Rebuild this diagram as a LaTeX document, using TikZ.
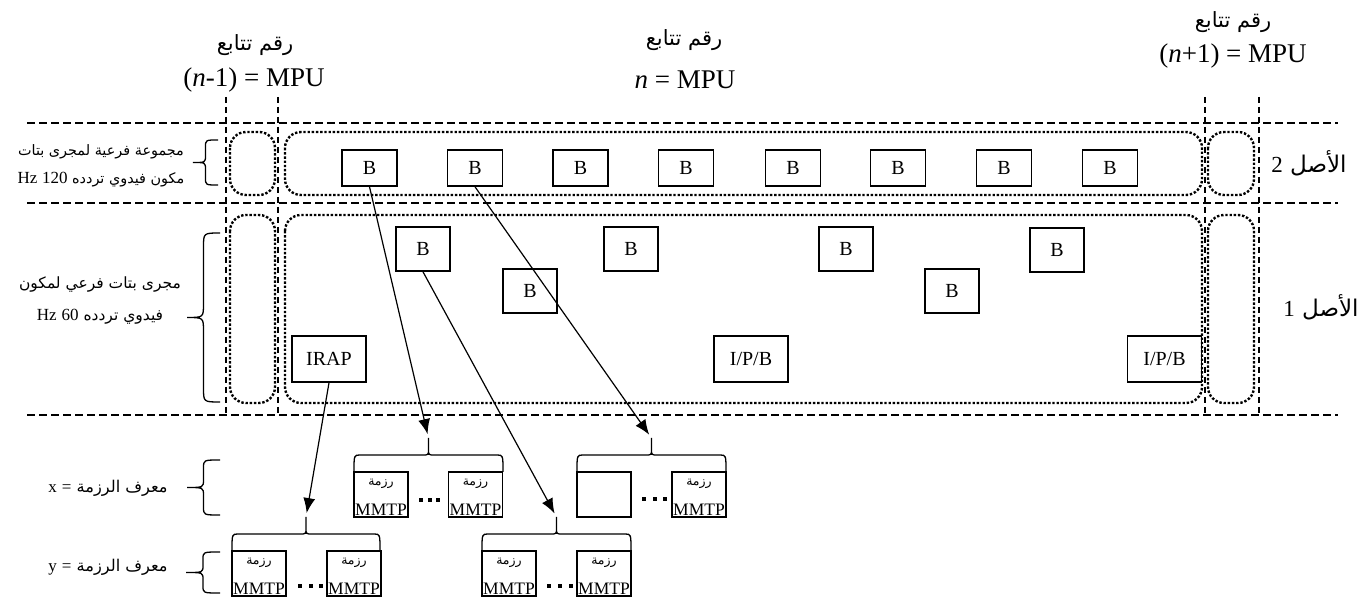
\documentclass[tikz,border=0pt]{standalone}
\usepackage{fontspec}
\setmainfont{Liberation Serif}
\newfontfamily\arabicfont[Script=Arabic]{DejaVu Sans}
\newfontfamily\latinfont{Liberation Serif}
\TeXXeTstate=1
\usetikzlibrary{arrows.meta}
\newcommand\artxt[1]{{\arabicfont\beginR #1\endR}}
\newcommand\lt[1]{{\latinfont #1}}
\newcommand\ltb[1]{{\latinfont\fontsize{17}{20}\selectfont #1}}
% top brace: xL xR ybase ytip
\newcommand\topbrace[4]{%
 \draw[brcline] (#1,#3) .. controls (#1,{(#3+#4)/2}) .. ({#1+6},{(#3+#4)/2})
   -- ({(#1+#2)/2-6},{(#3+#4)/2}) .. controls ({(#1+#2)/2},{(#3+#4)/2}) .. ({(#1+#2)/2},{(#3+#4)/2-6})
   -- ({(#1+#2)/2},#4) -- ({(#1+#2)/2},{(#3+#4)/2-6})
   .. controls ({(#1+#2)/2},{(#3+#4)/2}) .. ({(#1+#2)/2+6},{(#3+#4)/2})
   -- ({#2-6},{(#3+#4)/2}) .. controls (#2,{(#3+#4)/2}) .. (#2,#3);}
% left brace: xTip xEnd yTop yBot r
\newcommand\leftbrace[5]{%
 \draw[brcline] (#2,#3) .. controls ({(#1+#2)/2},#3) .. ({(#1+#2)/2},{#3+#5})
   -- ({(#1+#2)/2},{(#3+#4)/2-#5}) .. controls ({(#1+#2)/2},{(#3+#4)/2}) .. (#1,{(#3+#4)/2})
   .. controls ({(#1+#2)/2},{(#3+#4)/2}) .. ({(#1+#2)/2},{(#3+#4)/2+#5})
   -- ({(#1+#2)/2},{#4-#5}) .. controls ({(#1+#2)/2},#4) .. (#2,#4);}
\begin{document}
\begin{tikzpicture}[x=1pt,y=-1pt,
  hdash/.style={line width=2.2pt, dash pattern=on 8pt off 4pt},
  vdash/.style={line width=1.2pt, dash pattern=on 6pt off 4pt},
  dotbox/.style={line width=2.4pt, dash pattern=on 2.4pt off 1.8pt, rounded corners=16pt},
  fbox/.style={draw, line width=1.6pt, inner sep=0pt, font=\fontsize{20}{22}\selectfont},
  bsmall/.style={fbox, minimum width=55pt, minimum height=36pt},
  bbig/.style={fbox, minimum width=54pt, minimum height=44pt},
  bwide/.style={fbox, minimum width=74pt, minimum height=46pt},
  pkt/.style={draw, line width=1.6pt, minimum width=54pt, minimum height=45pt, inner sep=0pt},
  pkar/.style={inner sep=0pt, font=\fontsize{12.5}{14}\selectfont},
  pkmm/.style={anchor=base, inner sep=0pt, font=\fontsize{17.5}{18}\selectfont},
  conn/.style={line width=1.2pt, -{Latex[length=15pt,width=12pt]}, shorten >=4pt},
  brcline/.style={line width=1.3pt},
  toplat/.style={inner sep=0pt, font=\fontsize{27}{30}\selectfont},
  topar/.style={inner sep=0pt, font=\fontsize{21}{24}\selectfont},
  sidear/.style={inner sep=0pt, align=center},
]
\useasboundingbox (0,0) rectangle (1369,601);

% horizontal dashed lines
\draw[hdash] (27,123) -- (1338,123);
\draw[hdash] (27,203) -- (1338,203);
\draw[hdash] (27,415) -- (1338,415);
% vertical dashed lines
\draw[vdash] (226,97) -- (226,415);
\draw[vdash] (278,97) -- (278,415);
\draw[vdash] (1205,97) -- (1205,415);
\draw[vdash] (1259,97) -- (1259,415);

% dotted groups
\draw[dotbox] (230,132) rectangle (275,195);
\draw[dotbox] (285,132) rectangle (1202,195);
\draw[dotbox] (1208,132) rectangle (1254,195);
\draw[dotbox] (230,215) rectangle (275,403);
\draw[dotbox] (285,215) rectangle (1202,403);
\draw[dotbox] (1208,215) rectangle (1254,403);

% top labels
\node[topar] (s1a) at (255,45) {\artxt{رقم تتابع}};
\node[toplat] (s1b) at (254,80) {(\textit{n}-1) = MPU};
\node[topar] (s2a) at (684,40) {\artxt{رقم تتابع}};
\node[toplat] (s2b) at (685,80) {\textit{n} = MPU};
\node[topar] (s3a) at (1233,22) {\artxt{رقم تتابع}};
\node[toplat] (s3b) at (1233,56) {(\textit{n}+1) = MPU};

% right labels
\node[inner sep=0pt, font=\fontsize{23}{26}\selectfont] (l2) at (1309,163) {\artxt{الأصل \lt{2}}};
\node[inner sep=0pt, font=\fontsize{23}{26}\selectfont] (l1) at (1321,307) {\artxt{الأصل \lt{1}}};

% left labels
\node[sidear, font=\fontsize{14.4}{28}\selectfont] (lab2) at (101,166)
  {\artxt{مجموعة فرعية لمجرى بتات}\\\artxt{مكون فيدوي تردده \ltb{120} \ltb{Hz}}};
\leftbrace{193}{218}{140}{185}{7}
\node[sidear, font=\fontsize{15.5}{32}\selectfont] (lab1) at (100,301)
  {\artxt{مجرى بتات فرعي لمكون}\\\artxt{فيدوي تردده \ltb{60} \ltb{Hz}}};
\leftbrace{187}{220}{233}{402}{14}
\node[inner sep=0pt, font=\fontsize{16.2}{18}\selectfont] (lx) at (108,488) {\artxt{معرف الرزمة \ltb{=} \ltb{x}}};
\leftbrace{187}{220}{460}{515}{8}
\node[inner sep=0pt, font=\fontsize{16.2}{18}\selectfont] (ly) at (108,567) {\artxt{معرف الرزمة \ltb{=} \ltb{y}}};
\leftbrace{186}{220}{552}{593}{7}

% row 2 B frames
\node[bsmall] (t1) at (369.5,168) {B};
\node[bsmall] (t2) at (475,168) {B};
\node[bsmall] (t3) at (580.5,168) {B};
\node[bsmall] (t4) at (686,168) {B};
\node[bsmall] (t5) at (793,168) {B};
\node[bsmall] (t6) at (898,168) {B};
\node[bsmall] (t7) at (1004,168) {B};
\node[bsmall] (t8) at (1110,168) {B};

% row 1 frames
\node[bbig] (u1) at (423,249) {B};
\node[bbig] (u2) at (530,291) {B};
\node[bbig] (u3) at (631,249) {B};
\node[bbig] (u4) at (846,249) {B};
\node[bbig] (u5) at (952,291) {B};
\node[bbig] (u6) at (1057,250) {B};
\node[bwide] (irap) at (329,359) {IRAP};
\node[bwide] (ipb1) at (751,359) {I/P/B};
\node[bwide] (ipb2) at (1164.5,359) {I/P/B};

% packet group A (x)
\node[pkt] (pa1) at (381,494.5) {};
\node[pkar] (pa1a) at (381,484) {\artxt{رزمة}};
\node[pkmm] (pa1m) at (381,515) {MMTP};
\node[pkt] (pa2) at (475.5,494.5) {};
\node[pkar] (pa2a) at (475.5,484) {\artxt{رزمة}};
\node[pkmm] (pa2m) at (475.5,515) {MMTP};
\foreach \d in {421,429.5,438} \fill (\d-2,498) rectangle (\d+2,502);
\topbrace{354}{503}{472}{438}
\coordinate (tA) at (428.5,438);

% packet group B (x)
\node[pkt] (pb1) at (604,494.5) {};
\node[pkt] (pb2) at (699,494.5) {};
\node[pkar] (pb2a) at (699,484) {\artxt{رزمة}};
\node[pkmm] (pb2m) at (699,515) {MMTP};
\foreach \d in {644,654.5,665} \fill (\d-2,497) rectangle (\d+2,501);
\topbrace{577}{726}{472}{438}
\coordinate (tB) at (651.5,438);

% packet group C (y)
\node[pkt] (pc1) at (259,573.5) {};
\node[pkar] (pc1a) at (259,563) {\artxt{رزمة}};
\node[pkmm] (pc1m) at (259,594) {MMTP};
\node[pkt] (pc2) at (354,573.5) {};
\node[pkar] (pc2a) at (354,563) {\artxt{رزمة}};
\node[pkmm] (pc2m) at (354,594) {MMTP};
\foreach \d in {300,310.5,321} \fill (\d-2,584) rectangle (\d+2,588);
\topbrace{232}{380}{551}{517}
\coordinate (tC) at (306,517);

% packet group D (y)
\node[pkt] (pd1) at (509,573.5) {};
\node[pkar] (pd1a) at (509,563) {\artxt{رزمة}};
\node[pkmm] (pd1m) at (509,594) {MMTP};
\node[pkt] (pd2) at (604,573.5) {};
\node[pkar] (pd2a) at (604,563) {\artxt{رزمة}};
\node[pkmm] (pd2m) at (604,594) {MMTP};
\foreach \d in {549,560,571} \fill (\d-2,584) rectangle (\d+2,588);
\topbrace{482}{631}{551}{517}
\coordinate (tD) at (556.5,517);

% connectors
\draw[conn] (t1.south) -- (tA);
\draw[conn] (t2.south) -- (tB);
\draw[conn] (u1.south) -- (tD);
\draw[conn] (irap.south) -- (tC);
\end{tikzpicture}
\end{document}
